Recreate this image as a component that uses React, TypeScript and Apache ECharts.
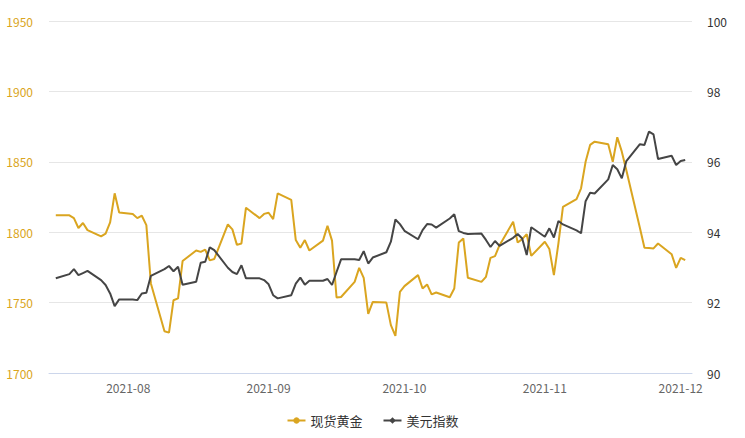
import React, { useEffect, useRef } from 'react';
import * as echarts from 'echarts';

// 交易日（现货黄金与美元指数共用）
const tradeDates = [
  '2021-07-16', '2021-07-19', '2021-07-20', '2021-07-21', '2021-07-22', '2021-07-23',
  '2021-07-26', '2021-07-27', '2021-07-28', '2021-07-29', '2021-07-30',
  '2021-08-02', '2021-08-03', '2021-08-04', '2021-08-05', '2021-08-06',
  '2021-08-09', '2021-08-10', '2021-08-11', '2021-08-12', '2021-08-13',
  '2021-08-16', '2021-08-17', '2021-08-18', '2021-08-19', '2021-08-20',
  '2021-08-23', '2021-08-24', '2021-08-25', '2021-08-26', '2021-08-27',
  '2021-08-30', '2021-08-31', '2021-09-01', '2021-09-02', '2021-09-03',
  '2021-09-06', '2021-09-07', '2021-09-08', '2021-09-09', '2021-09-10',
  '2021-09-13', '2021-09-14', '2021-09-15', '2021-09-16', '2021-09-17',
  '2021-09-20', '2021-09-21', '2021-09-22', '2021-09-23', '2021-09-24',
  '2021-09-27', '2021-09-28', '2021-09-29', '2021-09-30', '2021-10-01',
  '2021-10-04', '2021-10-05', '2021-10-06', '2021-10-07', '2021-10-08',
  '2021-10-11', '2021-10-12', '2021-10-13', '2021-10-14', '2021-10-15',
  '2021-10-18', '2021-10-19', '2021-10-20', '2021-10-21', '2021-10-22',
  '2021-10-25', '2021-10-26', '2021-10-27', '2021-10-28', '2021-10-29',
  '2021-11-01', '2021-11-02', '2021-11-03', '2021-11-04', '2021-11-05',
  '2021-11-08', '2021-11-09', '2021-11-10', '2021-11-11', '2021-11-12',
  '2021-11-15', '2021-11-16', '2021-11-17', '2021-11-18', '2021-11-19',
  '2021-11-22', '2021-11-23', '2021-11-24', '2021-11-25', '2021-11-26',
  '2021-11-29', '2021-11-30', '2021-12-01', '2021-12-02',
];

// 现货黄金（美元/盎司）
const goldValues = [
  1812, 1812, 1810, 1803, 1806.5, 1801.5,
  1797, 1799, 1807, 1827.6, 1814,
  1813, 1810, 1811.7, 1805, 1763.6,
  1729.7, 1728.7, 1751.7, 1753, 1779.5,
  1787, 1786, 1787.7, 1780, 1781,
  1805.5, 1802, 1791, 1792, 1817.4,
  1810, 1813, 1813.8, 1809.3, 1827.6,
  1823, 1794.4, 1789, 1794.4, 1787,
  1794, 1804.5, 1794, 1753.6, 1754,
  1764.7, 1774.7, 1767.6, 1742, 1750.5,
  1750, 1734, 1726.3, 1757.6, 1761.7,
  1769.5, 1760, 1762.9, 1755.8, 1757.2,
  1753.8, 1760, 1792.7, 1795.6, 1767.6,
  1764.7, 1768.3, 1781.8, 1783, 1790.8,
  1807.4, 1792.7, 1795.1, 1798.6, 1783.2,
  1793.2, 1788, 1769.5, 1792, 1818,
  1823.5, 1831.2, 1850, 1862, 1864.3,
  1862.4, 1850, 1867.4, 1857.2, 1844,
  1803, 1788.9, 1788.7, 1788.5, 1792,
  1784.4, 1774.7, 1781.8, 1780.2,
];

// 美元指数
const usdValues = [
  92.69, 92.81, 92.95, 92.78, 92.84, 92.9,
  92.64, 92.5, 92.26, 91.9, 92.09,
  92.09, 92.07, 92.26, 92.28, 92.76,
  92.95, 93.04, 92.89, 93.02, 92.51,
  92.59, 93.13, 93.16, 93.57, 93.49,
  92.99, 92.87, 92.81, 93.06, 92.69,
  92.69, 92.64, 92.52, 92.21, 92.12,
  92.21, 92.54, 92.71, 92.51, 92.62,
  92.62, 92.67, 92.5, 92.87, 93.23,
  93.23, 93.21, 93.46, 93.11, 93.28,
  93.43, 93.73, 94.36, 94.23, 94.04,
  93.8, 94.06, 94.23, 94.22, 94.13,
  94.39, 94.51, 94.03, 93.98, 93.95,
  93.96, 93.78, 93.58, 93.75, 93.61,
  93.84, 93.95, 93.82, 93.35, 94.14,
  93.87, 94.11, 93.85, 94.32, 94.22,
  94.05, 93.97, 94.88, 95.12, 95.1,
  95.5, 95.91, 95.79, 95.53, 96.02,
  96.5, 96.48, 96.86, 96.78, 96.08,
  96.17, 95.91, 96.02, 96.05,
];

const axisStart = '2021-07-15';
const axisEnd = '2021-12-03';

// 横轴按自然日排列
const buildDays = (start: string, end: string) => {
  const out: string[] = [];
  const d = new Date(start + 'T00:00:00Z');
  const last = new Date(end + 'T00:00:00Z').getTime();
  while (d.getTime() <= last) {
    out.push(d.toISOString().slice(0, 10));
    d.setUTCDate(d.getUTCDate() + 1);
  }
  return out;
};

const GOLD = '#DAA520';
const DARK = '#454545';
const FONT = '"Microsoft YaHei", "Noto Sans CJK SC", sans-serif';

const App: React.FC = () => {
  const chartRef = useRef<HTMLDivElement>(null);

  useEffect(() => {
    if (!chartRef.current) return;
    const chart = echarts.init(chartRef.current, undefined, { renderer: 'svg' });

    const days = buildDays(axisStart, axisEnd);
    const isMonthStart = (_i: number, v: string) => v.endsWith('-01');

    const option = {
      animation: false,
      textStyle: { fontFamily: FONT },
      grid: { left: 49, right: 53, top: 21, bottom: 65 },
      legend: {
        bottom: 6,
        left: 'center',
        itemWidth: 18,
        itemHeight: 8,
        itemGap: 20,
        textStyle: { color: '#333', fontSize: 13, fontFamily: FONT },
        data: ['现货黄金', '美元指数'],
      },
      xAxis: {
        type: 'category',
        data: days,
        boundaryGap: true,
        axisLine: { lineStyle: { color: '#ccd6eb' } },
        axisTick: {
          alignWithLabel: true,
          interval: isMonthStart,
          length: 9,
          lineStyle: { color: '#ccd6eb' },
        },
        axisLabel: {
          interval: isMonthStart,
          color: '#666',
          fontSize: 12,
          margin: 8,
          formatter: (v: string) => v.slice(0, 7),
        },
        splitLine: { show: false },
      },
      yAxis: [
        {
          type: 'value',
          min: 1700,
          max: 1950,
          interval: 50,
          axisLine: { show: false },
          axisTick: { show: false },
          axisLabel: { color: GOLD, fontSize: 12, margin: 16, formatter: (v: number) => String(v) },
          splitLine: { lineStyle: { color: '#e6e6e6' } },
        },
        {
          type: 'value',
          min: 90,
          max: 100,
          interval: 2,
          axisLine: { show: false },
          axisTick: { show: false },
          axisLabel: { color: '#333', fontSize: 12, margin: 15, formatter: (v: number) => String(v) },
          splitLine: { show: false },
        },
      ],
      series: [
        {
          name: '现货黄金',
          type: 'line',
          yAxisIndex: 0,
          symbol: 'circle',
          showSymbol: false,
          color: GOLD,
          lineStyle: { width: 2, color: GOLD },
          data: tradeDates.map((d, i) => [days.indexOf(d), goldValues[i]]),
        },
        {
          name: '美元指数',
          type: 'line',
          yAxisIndex: 1,
          symbol: 'diamond',
          showSymbol: false,
          color: DARK,
          lineStyle: { width: 2, color: DARK },
          data: tradeDates.map((d, i) => [days.indexOf(d), usdValues[i]]),
        },
      ],
    };

    chart.setOption(option);

    return () => {
      chart.dispose();
    };
  }, []);

  return (
    <div
      ref={chartRef}
      style={{ position: 'fixed', left: 0, top: 0, width: 745, height: 438, background: '#fff' }}
    ></div>
  );
};

export default App;
